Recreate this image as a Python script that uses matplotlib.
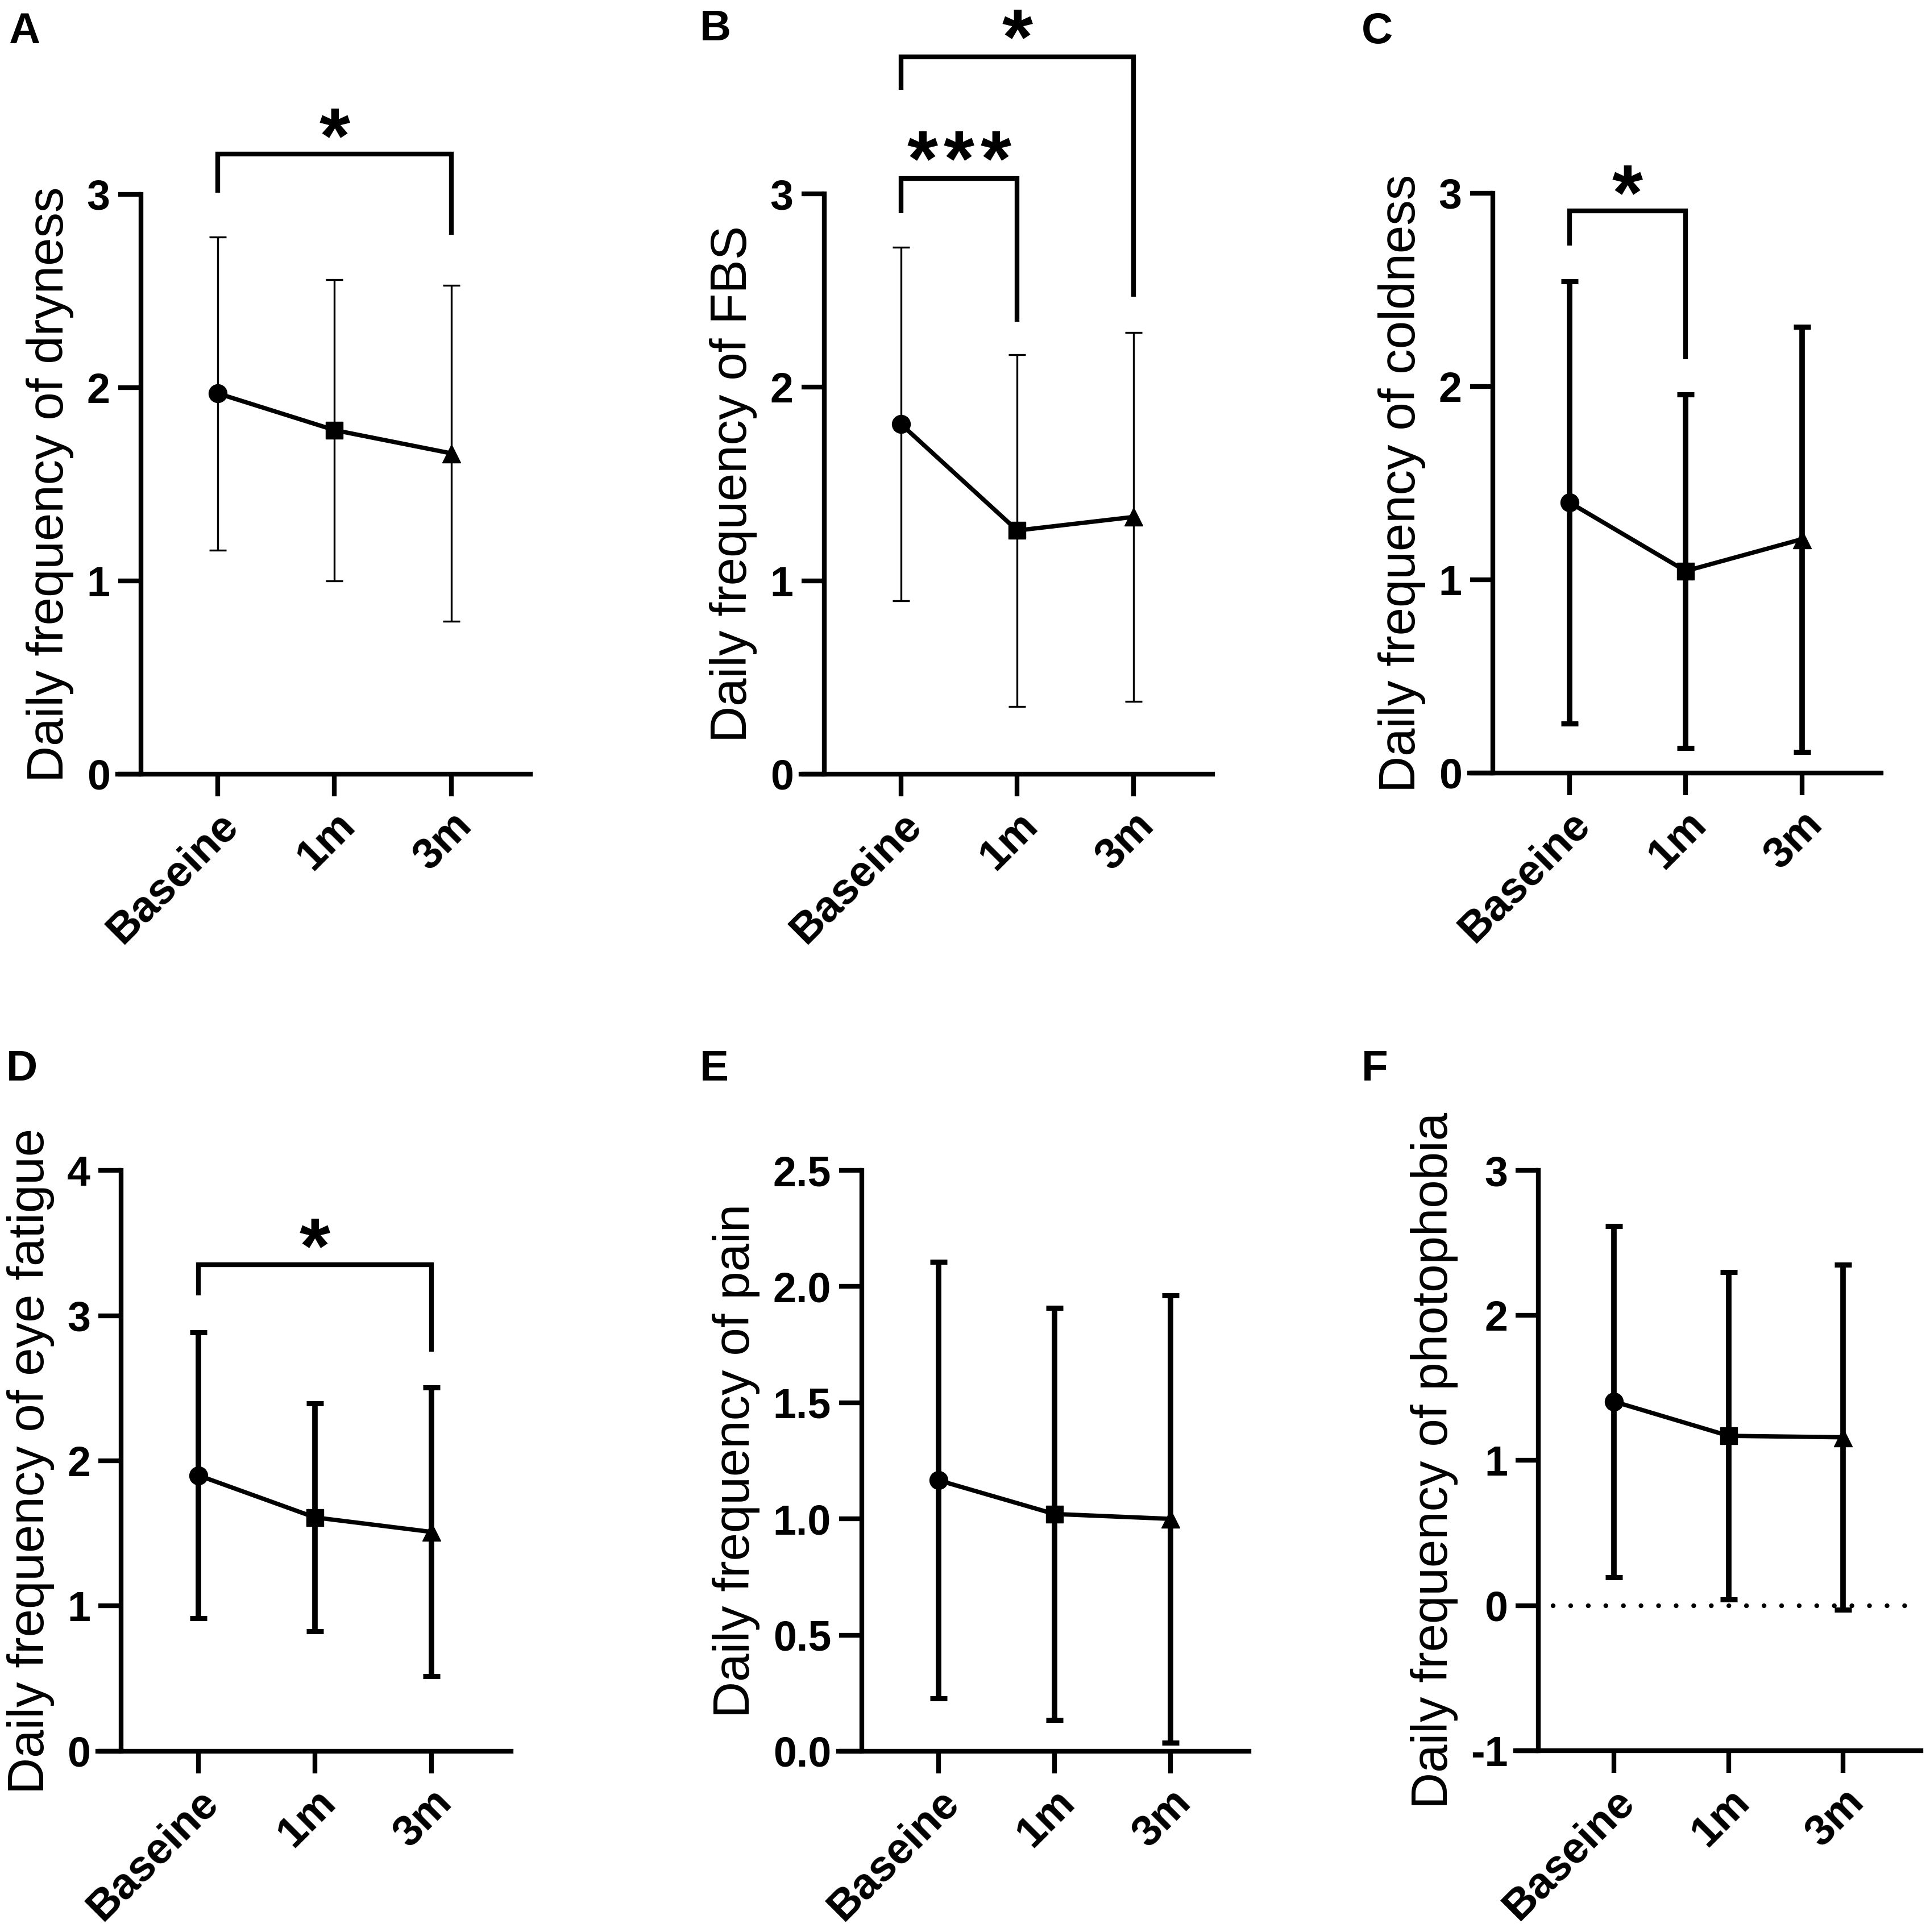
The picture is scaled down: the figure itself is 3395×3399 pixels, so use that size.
import matplotlib
matplotlib.use("Agg")
import matplotlib.pyplot as plt

plt.rcParams['font.family'] = ['Liberation Sans', 'DejaVu Sans']

# time points
groups = ["Baseine", "1m", "3m"]
markers = ["o", "s", "^"]

# mean and SD per panel
dry_mean = [1.97, 1.78, 1.66]
dry_sd = [0.81, 0.78, 0.87]

fbs_mean = [1.81, 1.26, 1.33]
fbs_sd = [0.915, 0.91, 0.955]

cold_mean = [1.40, 1.045, 1.21]
cold_sd = [1.145, 0.915, 1.10]

fat_mean = [1.90, 1.61, 1.51]
fat_sd = [0.985, 0.785, 0.995]

pain_mean = [1.166, 1.021, 1.00]
pain_sd = [0.94, 0.886, 0.963]

photo_mean = [1.406, 1.17, 1.16]
photo_sd = [1.21, 1.13, 1.19]

# significance brackets: (i, j, bracket top, left leg end, right leg end, star y, label)
dry_sig = [(0, 2, 3.21, 3.01, 2.79, 3.40, "*")]
fbs_sig = [(0, 1, 3.08, 2.90, 2.34, 3.28, "***"),
           (0, 2, 3.71, 3.54, 2.47, 3.91, "*")]
cold_sig = [(0, 1, 2.91, 2.73, 2.14, 3.10, "*")]
fat_sig = [(0, 2, 3.35, 3.14, 2.75, 3.61, "*")]

panels = [
    # letter, pos, ylabel, mean, sd, ylim, yticks, fmt, thin errorbars, sig
    ("A", [0.0609, 0.5993, 0.2140, 0.3001], "Daily frequency of dryness",
     dry_mean, dry_sd, (0, 3), [0, 1, 2, 3], "{:.0f}", True, dry_sig),
    ("B", [0.4150, 0.5993, 0.2133, 0.3003], "Daily frequency of FBS",
     fbs_mean, fbs_sd, (0, 3), [0, 1, 2, 3], "{:.0f}", True, fbs_sig),
    ("C", [0.7614, 0.5999, 0.2132, 0.3001], "Daily frequency of coldness",
     cold_mean, cold_sd, (0, 3), [0, 1, 2, 3], "{:.0f}", False, cold_sig),
    ("D", [0.0507, 0.0936, 0.2140, 0.3006], "Daily frequency of eye fatigue",
     fat_mean, fat_sd, (0, 4), [0, 1, 2, 3, 4], "{:.0f}", False, fat_sig),
    ("E", [0.4346, 0.0936, 0.2126, 0.3006], "Daily frequency of pain",
     pain_mean, pain_sd, (0, 2.5), [0, 0.5, 1.0, 1.5, 2.0, 2.5], "{:.1f}", False, []),
    ("F", [0.7853, 0.0939, 0.2101, 0.3003], "Daily frequency of photophobia",
     photo_mean, photo_sd, (-1, 3), [-1, 0, 1, 2, 3], "{:.0f}", False, []),
]

letter_pos = {"A": (0.0044, 0.9776), "B": (0.3626, 0.9791), "C": (0.7055, 0.9776),
              "D": (0.0032, 0.4407), "E": (0.3626, 0.4407), "F": (0.7055, 0.4407)}

fig = plt.figure(figsize=(33.95, 33.99), dpi=100)

x = list(range(len(groups)))
for letter, pos, ylabel, mean, sd, ylim, yticks, fmt, thin, sig in panels:
    ax = fig.add_axes(pos)
    ax.set_xlim(-0.86, 2.68)
    ax.set_ylim(*ylim)

    if letter == "F":
        ax.axhline(0, xmin=0.092, xmax=0.994, color="k", lw=6,
                   linestyle=(0, (0.01, 3.7)), dash_capstyle="round", zorder=1)

    ax.plot(x, mean, color="k", lw=5.5, zorder=3)
    ebw = 2.4 if thin else 7
    ax.errorbar(x, mean, yerr=sd, fmt="none", ecolor="k", elinewidth=ebw,
                capsize=11, capthick=ebw if thin else 6.5, zorder=2, clip_on=False)
    for xi, m, mk in zip(x, mean, markers):
        ax.plot(xi, m, marker=mk, ms=23 if mk != "s" else 21, color="k",
                zorder=4, clip_on=False)

    for i, j, top, yl, yr, ys, lab in sig:
        ax.plot([i, i, j, j], [yl, top, top, yr], color="k", lw=6,
                solid_joinstyle="miter", solid_capstyle="butt", clip_on=False)
        xc = (i + j) / 2
        n = len(lab)
        for k in range(n):
            xs = xc + (k - (n - 1) / 2) * 0.313
            ax.annotate("*", xy=(xs, ys), xytext=(0, -0.58 * 100),
                        textcoords="offset points", ha="center", va="baseline",
                        fontsize=100, fontweight="bold", annotation_clip=False)

    for s in ["top", "right"]:
        ax.spines[s].set_visible(False)
    ax.spines["left"].set_position(("data", -0.66))
    ax.spines["left"].set_linewidth(6)
    ax.spines["bottom"].set_linewidth(6)

    ax.set_yticks(yticks)
    ax.set_yticklabels([fmt.format(v) for v in yticks])
    ax.set_xticks(x)
    ax.set_xticklabels(groups)
    ax.tick_params(axis="y", length=29, width=6, labelsize=53, pad=10)
    ax.tick_params(axis="x", length=28, width=6, labelsize=55, pad=11)
    for t in ax.get_yticklabels() + ax.get_xticklabels():
        t.set_fontweight("bold")
    for t in ax.get_xticklabels():
        t.set_rotation(45)
        t.set_ha("right")
        t.set_rotation_mode("anchor")

    ax.set_ylabel(ylabel, fontsize=64, labelpad=16)

    lx, ly = letter_pos[letter]
    fig.text(lx, ly, letter, fontsize=55, fontweight="bold", va="baseline")

fig.savefig("out.png", dpi=100)
